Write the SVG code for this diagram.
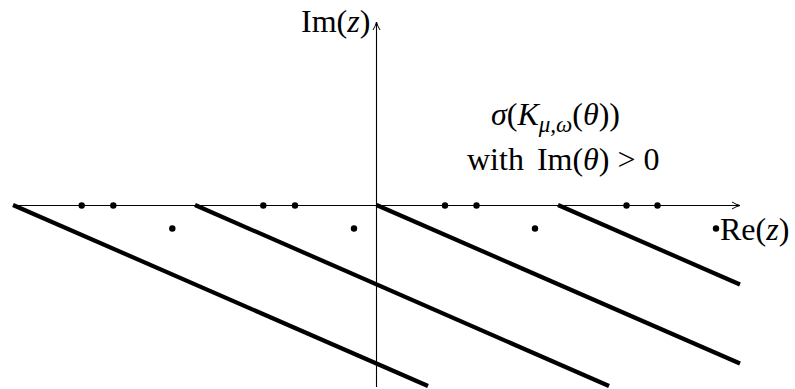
<svg xmlns="http://www.w3.org/2000/svg" width="795" height="389" viewBox="0 0 795 389">
<style>
.ax{stroke:#000;stroke-width:1.1;fill:none}
.br{stroke:#000;stroke-width:4.2;fill:none;stroke-linecap:butt}
.dot{fill:#000}
.t{font-family:"Liberation Serif","Times New Roman",serif;font-size:32px;fill:#000}
.i{font-style:italic}
</style>
<defs>
<marker id="arr" viewBox="0 0 10 10" refX="9" refY="5" markerWidth="10" markerHeight="10" markerUnits="userSpaceOnUse" orient="auto">
<path d="M1,1.5 Q5,4 9,5 Q5,6 1,8.5" fill="none" stroke="#000" stroke-width="1"/>
</marker>
</defs>
<g id="connectors">
<line class="ax" x1="13" y1="205.5" x2="740" y2="205.5" marker-end="url(#arr)"/>
<line class="ax" x1="376.5" y1="387" x2="376.5" y2="22" marker-end="url(#arr)"/>
<line class="br" x1="13" y1="205" x2="428" y2="386"/>
<line class="br" x1="195" y1="205" x2="609" y2="386"/>
<line class="br" x1="376.5" y1="205" x2="740" y2="363.5"/>
<line class="br" x1="558" y1="205" x2="740" y2="284.5"/>
</g>
<g id="dots">
<circle class="dot" cx="81.7" cy="205.5" r="3.2"/>
<circle class="dot" cx="113.3" cy="205.5" r="3.2"/>
<circle class="dot" cx="263.3" cy="205.5" r="3.2"/>
<circle class="dot" cx="295" cy="205.5" r="3.2"/>
<circle class="dot" cx="445" cy="205.5" r="3.2"/>
<circle class="dot" cx="476.5" cy="205.5" r="3.2"/>
<circle class="dot" cx="626.5" cy="205.5" r="3.2"/>
<circle class="dot" cx="657.5" cy="205.5" r="3.2"/>
<circle class="dot" cx="172.3" cy="228.5" r="3.2"/>
<circle class="dot" cx="354" cy="228.5" r="3.2"/>
<circle class="dot" cx="535" cy="228.5" r="3.2"/>
<circle class="dot" cx="716" cy="228.5" r="3.2"/>
</g>
<g id="label-im">
<text class="t" x="301" y="32">Im(<tspan class="i">z</tspan>)</text>
</g>
<g id="label-re">
<text class="t" x="720" y="240">Re(<tspan class="i">z</tspan>)</text>
</g>
<g id="label-sigma">
<text class="t" x="491" y="125"><tspan class="i">σ</tspan>(<tspan class="i">K</tspan><tspan class="i" font-size="23" dy="7">μ,ω</tspan><tspan dy="-7">(</tspan><tspan class="i">θ</tspan>))</text>
<text class="t" x="467" y="170">with<tspan dx="5"> Im(</tspan><tspan class="i">θ</tspan>) &gt; 0</text>
</g>
</svg>
